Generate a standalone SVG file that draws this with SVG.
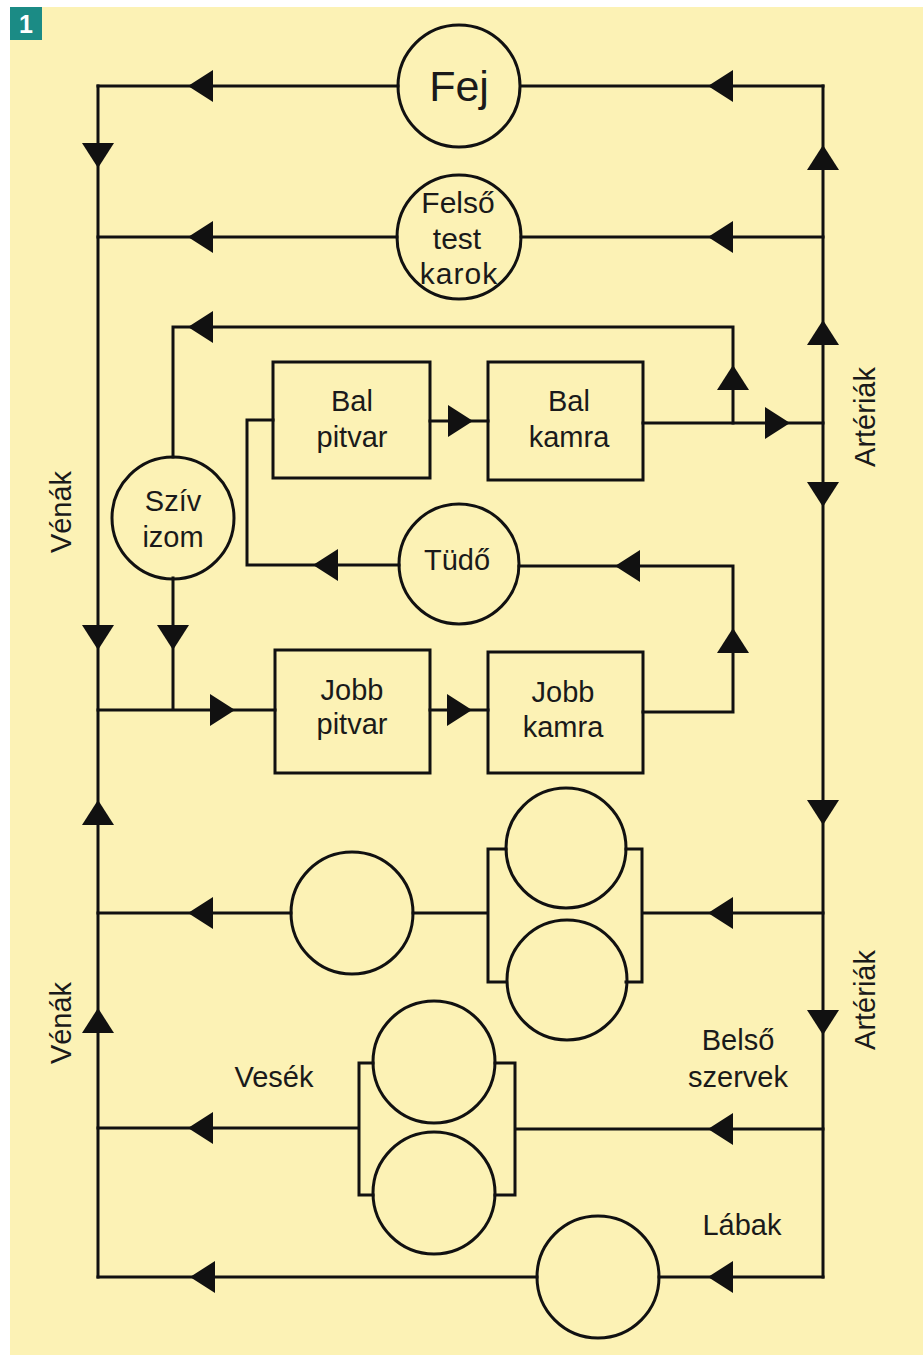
<svg xmlns="http://www.w3.org/2000/svg" width="923" height="1362" viewBox="0 0 923 1362">
<style>
.ln{fill:none;stroke:#111;stroke-width:3;stroke-linecap:square}
.nd{fill:none;stroke:#111;stroke-width:3}
.t{font-family:"Liberation Sans",Arial,sans-serif;font-size:29px;fill:#1a1a1a;text-anchor:middle}
.ah{fill:#111}
</style>
<defs>
<polygon id="ar" class="ah" points="0,0 -25,-16 -25,16"/>
</defs>
<rect x="0" y="0" width="923" height="1362" fill="#ffffff"/>
<rect x="10" y="7" width="913" height="1348" fill="#FCF2B5"/>
<g id="badge">
<rect x="10" y="7" width="32" height="33" fill="#1B8B85"/>
<text x="26" y="33" font-family="'Liberation Sans',Arial,sans-serif" font-weight="bold" font-size="25" fill="#fff" text-anchor="middle">1</text>
</g>
<g id="connectors">
<path class="ln" d="M98,86 V1277 M823,86 V1277"/>
<path class="ln" d="M98,86 H398 M521,86 H823"/>
<path class="ln" d="M98,237 H397 M521,237 H823"/>
<path class="ln" d="M173,457 V327 H733 V423"/>
<path class="ln" d="M643,423 H823"/>
<path class="ln" d="M430,421 H488"/>
<path class="ln" d="M273,420 H247 V565 H399"/>
<path class="ln" d="M519,566 H733 V712 H643"/>
<path class="ln" d="M98,710 H275 M173,578 V710"/>
<path class="ln" d="M430,710 H488"/>
<path class="ln" d="M98,913 H291 M413,913 H488 M506,849 H488 V982 H506 M626,849 H642 V982 H626 M642,913 H823"/>
<path class="ln" d="M98,1128 H359 M373,1063 H359 V1195 H373 M495,1063 H515 V1195 H495 M515,1129 H823"/>
<path class="ln" d="M98,1277 H537 M659,1277 H823"/>
<use href="#ar" transform="translate(188,86) rotate(180)"/>
<use href="#ar" transform="translate(708,86) rotate(180)"/>
<use href="#ar" transform="translate(98,168) rotate(90)"/>
<use href="#ar" transform="translate(188,237) rotate(180)"/>
<use href="#ar" transform="translate(708,237) rotate(180)"/>
<use href="#ar" transform="translate(823,145) rotate(-90)"/>
<use href="#ar" transform="translate(823,320) rotate(-90)"/>
<use href="#ar" transform="translate(823,507) rotate(90)"/>
<use href="#ar" transform="translate(823,825) rotate(90)"/>
<use href="#ar" transform="translate(823,1035) rotate(90)"/>
<use href="#ar" transform="translate(188,327) rotate(180)"/>
<use href="#ar" transform="translate(733,365) rotate(-90)"/>
<use href="#ar" transform="translate(473,421)"/>
<use href="#ar" transform="translate(790,423)"/>
<use href="#ar" transform="translate(313,565) rotate(180)"/>
<use href="#ar" transform="translate(615,566) rotate(180)"/>
<use href="#ar" transform="translate(733,628) rotate(-90)"/>
<use href="#ar" transform="translate(98,650) rotate(90)"/>
<use href="#ar" transform="translate(173,650) rotate(90)"/>
<use href="#ar" transform="translate(235,710)"/>
<use href="#ar" transform="translate(472,710)"/>
<use href="#ar" transform="translate(98,800) rotate(-90)"/>
<use href="#ar" transform="translate(98,1008) rotate(-90)"/>
<use href="#ar" transform="translate(188,913) rotate(180)"/>
<use href="#ar" transform="translate(708,913) rotate(180)"/>
<use href="#ar" transform="translate(188,1128) rotate(180)"/>
<use href="#ar" transform="translate(708,1129) rotate(180)"/>
<use href="#ar" transform="translate(190,1277) rotate(180)"/>
<use href="#ar" transform="translate(708,1277) rotate(180)"/>
</g>
<g id="fej">
<circle class="nd" cx="459" cy="86" r="61"/>
<text class="t" x="459" y="101" style="font-size:43px">Fej</text>
</g>
<g id="felso">
<circle class="nd" cx="459" cy="237" r="62"/>
<text class="t" x="458" y="213" style="font-size:30px">Felső</text>
<text class="t" x="457" y="249" style="font-size:30px">test</text>
<text class="t" x="459" y="284" style="font-size:30px;letter-spacing:1px">karok</text>
</g>
<g id="sziv">
<circle class="nd" cx="173" cy="518" r="61"/>
<text class="t" x="173" y="511">Szív</text>
<text class="t" x="173" y="547">izom</text>
</g>
<g id="balpitvar">
<rect class="nd" x="273" y="362" width="157" height="116"/>
<text class="t" x="352" y="411">Bal</text>
<text class="t" x="352" y="447">pitvar</text>
</g>
<g id="balkamra">
<rect class="nd" x="488" y="362" width="155" height="118"/>
<text class="t" x="569" y="411">Bal</text>
<text class="t" x="569" y="447">kamra</text>
</g>
<g id="tudo">
<circle class="nd" cx="459" cy="564" r="60"/>
<text class="t" x="457" y="570">Tüdő</text>
</g>
<g id="jobbpitvar">
<rect class="nd" x="275" y="650" width="155" height="123"/>
<text class="t" x="352" y="700">Jobb</text>
<text class="t" x="352" y="734">pitvar</text>
</g>
<g id="jobbkamra">
<rect class="nd" x="488" y="652" width="155" height="121"/>
<text class="t" x="563" y="702">Jobb</text>
<text class="t" x="563" y="737">kamra</text>
</g>
<g id="organ-mid">
<circle class="nd" cx="352" cy="913" r="61"/>
<circle class="nd" cx="566" cy="848" r="60"/>
<circle class="nd" cx="567" cy="980" r="60"/>
</g>
<g id="vesek">
<circle class="nd" cx="434" cy="1062" r="61"/>
<circle class="nd" cx="434" cy="1193" r="61"/>
<text class="t" x="274" y="1087">Vesék</text>
</g>
<g id="belso">
<text class="t" x="738" y="1050">Belső</text>
<text class="t" x="738" y="1087">szervek</text>
</g>
<g id="labak">
<circle class="nd" cx="598" cy="1277" r="61"/>
<text class="t" x="742" y="1235">Lábak</text>
</g>
<g id="labels">
<text class="t" transform="translate(875,417) rotate(-90)">Artériák</text>
<text class="t" transform="translate(875,1000) rotate(-90)">Artériák</text>
<text class="t" transform="translate(71,512) rotate(-90)">Vénák</text>
<text class="t" transform="translate(71,1023) rotate(-90)">Vénák</text>
</g>
</svg>
